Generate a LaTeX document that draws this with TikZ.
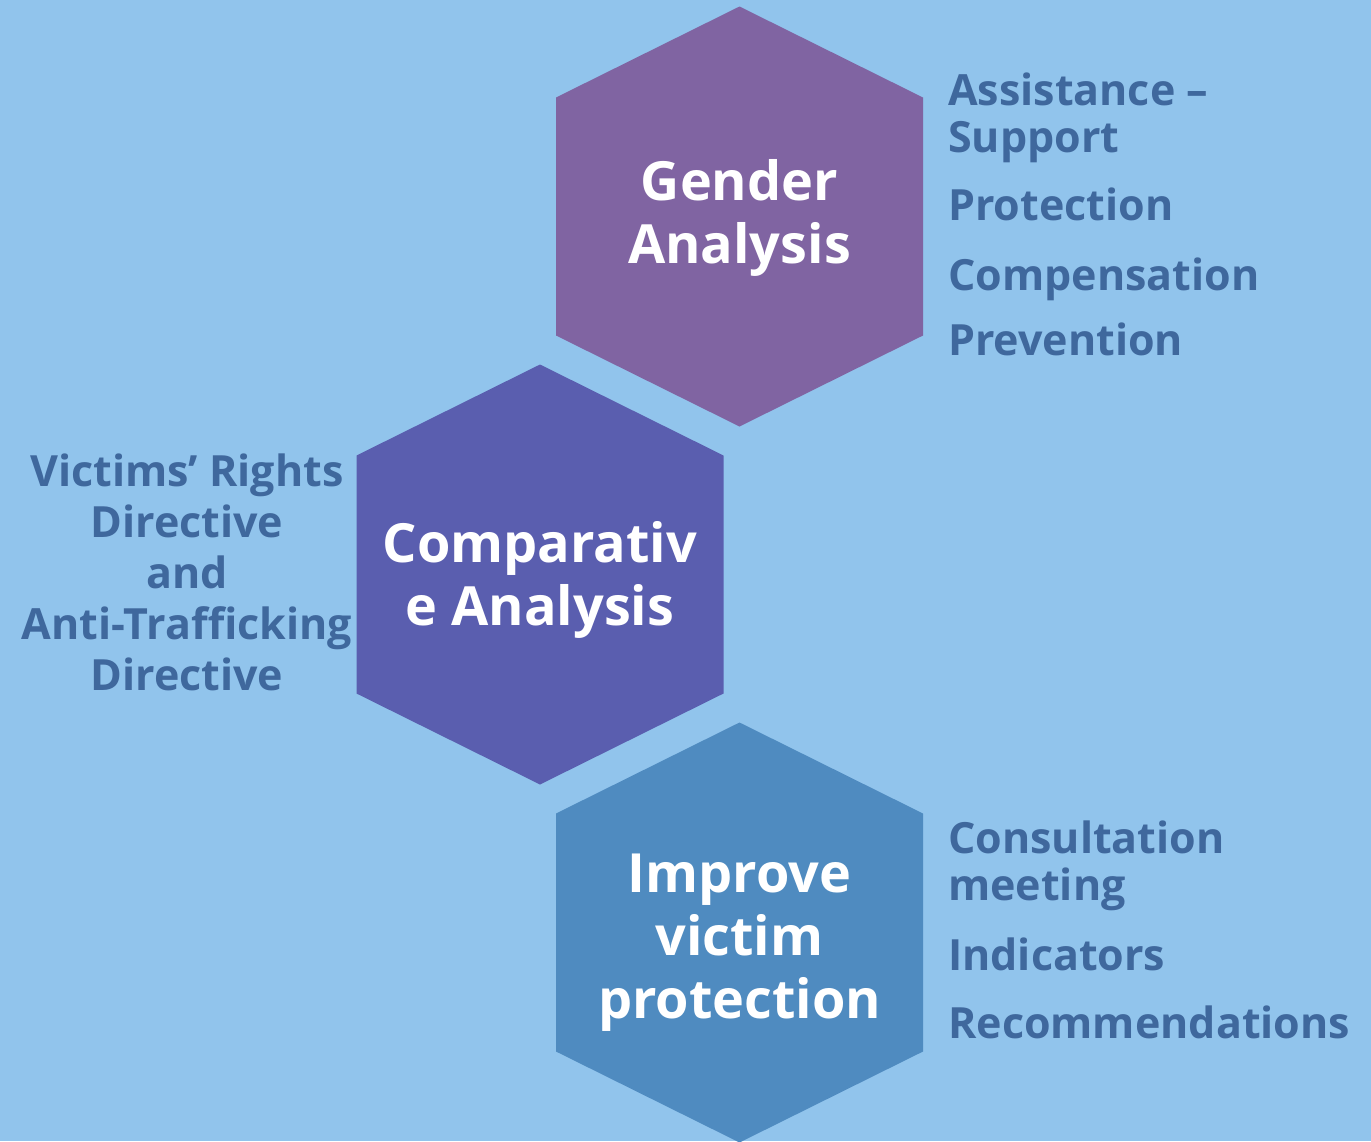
\documentclass[tikz,border=0pt]{standalone}
\usepackage{fontspec}
\setmainfont{Open Sans}[BoldFont={Open Sans Bold}]
\definecolor{bgblue}{HTML}{91C4EC}
\definecolor{hexpurple}{HTML}{8064A2}
\definecolor{hexindigo}{HTML}{5A5EAF}
\definecolor{hexblue}{HTML}{4F8BC0}
\definecolor{sidetext}{HTML}{3F689D}
\tikzset{
  hexfill/.style={fill=#1, draw=none},
  hextext/.style={text=white, font=\bfseries\fontsize{54}{63}\selectfont, align=center, inner sep=0pt, anchor=base},
  sidelabel/.style={text=sidetext, font=\bfseries\fontsize{43}{47}\selectfont, align=left, inner sep=0pt, anchor=base west},
  leftlabel/.style={text=sidetext, font=\bfseries\fontsize{43}{51}\selectfont, align=center, inner sep=0pt, anchor=base},
}
\newcommand\myhex[3]{% name, center, colour
  \fill[hexfill=#3] (#2) ++(0,210) -- ++(183.5,-91) -- ++(0,-238) -- ++(-183.5,-91) -- ++(-183.5,91) -- ++(0,238) -- cycle;
}
\begin{document}
\begin{tikzpicture}[x=1pt,y=1pt]
\fill[bgblue] (0,0) rectangle (1371,-1141);
\useasboundingbox (0,0) rectangle (1371,-1141);
\coordinate (cg) at (739.5,-216.5);
\coordinate (cc) at (540,-574.5);
\coordinate (ci) at (739.5,-932.5);
\myhex{hg}{cg}{hexpurple}
\myhex{hc}{cc}{hexindigo}
\myhex{hi}{ci}{hexblue}
\node[hextext] (tg) at (739.5,-263) {Gender\\Analysis};
\node[hextext] (tc) at (540,-625) {Comparativ\\e Analysis};
\node[hextext] (ti) at (739.5,-1018) {Improve\\victim\\protection};
\node[sidelabel] (r1) at (948,-152) {Assistance –\\Support};
\node[sidelabel] (r2) at (948,-220) {Protection};
\node[sidelabel] (r3) at (948,-290) {Compensation};
\node[sidelabel] (r4) at (948,-355) {Prevention};
\node[leftlabel] (l1) at (187,-690) {Victims’ Rights\\Directive\\and\\Anti-Trafficking\\Directive};
\node[sidelabel] (b1) at (948,-900) {Consultation\\meeting};
\node[sidelabel] (b2) at (948,-970) {Indicators};
\node[sidelabel] (b3) at (948,-1038) {Recommendations};
\end{tikzpicture}
\end{document}
